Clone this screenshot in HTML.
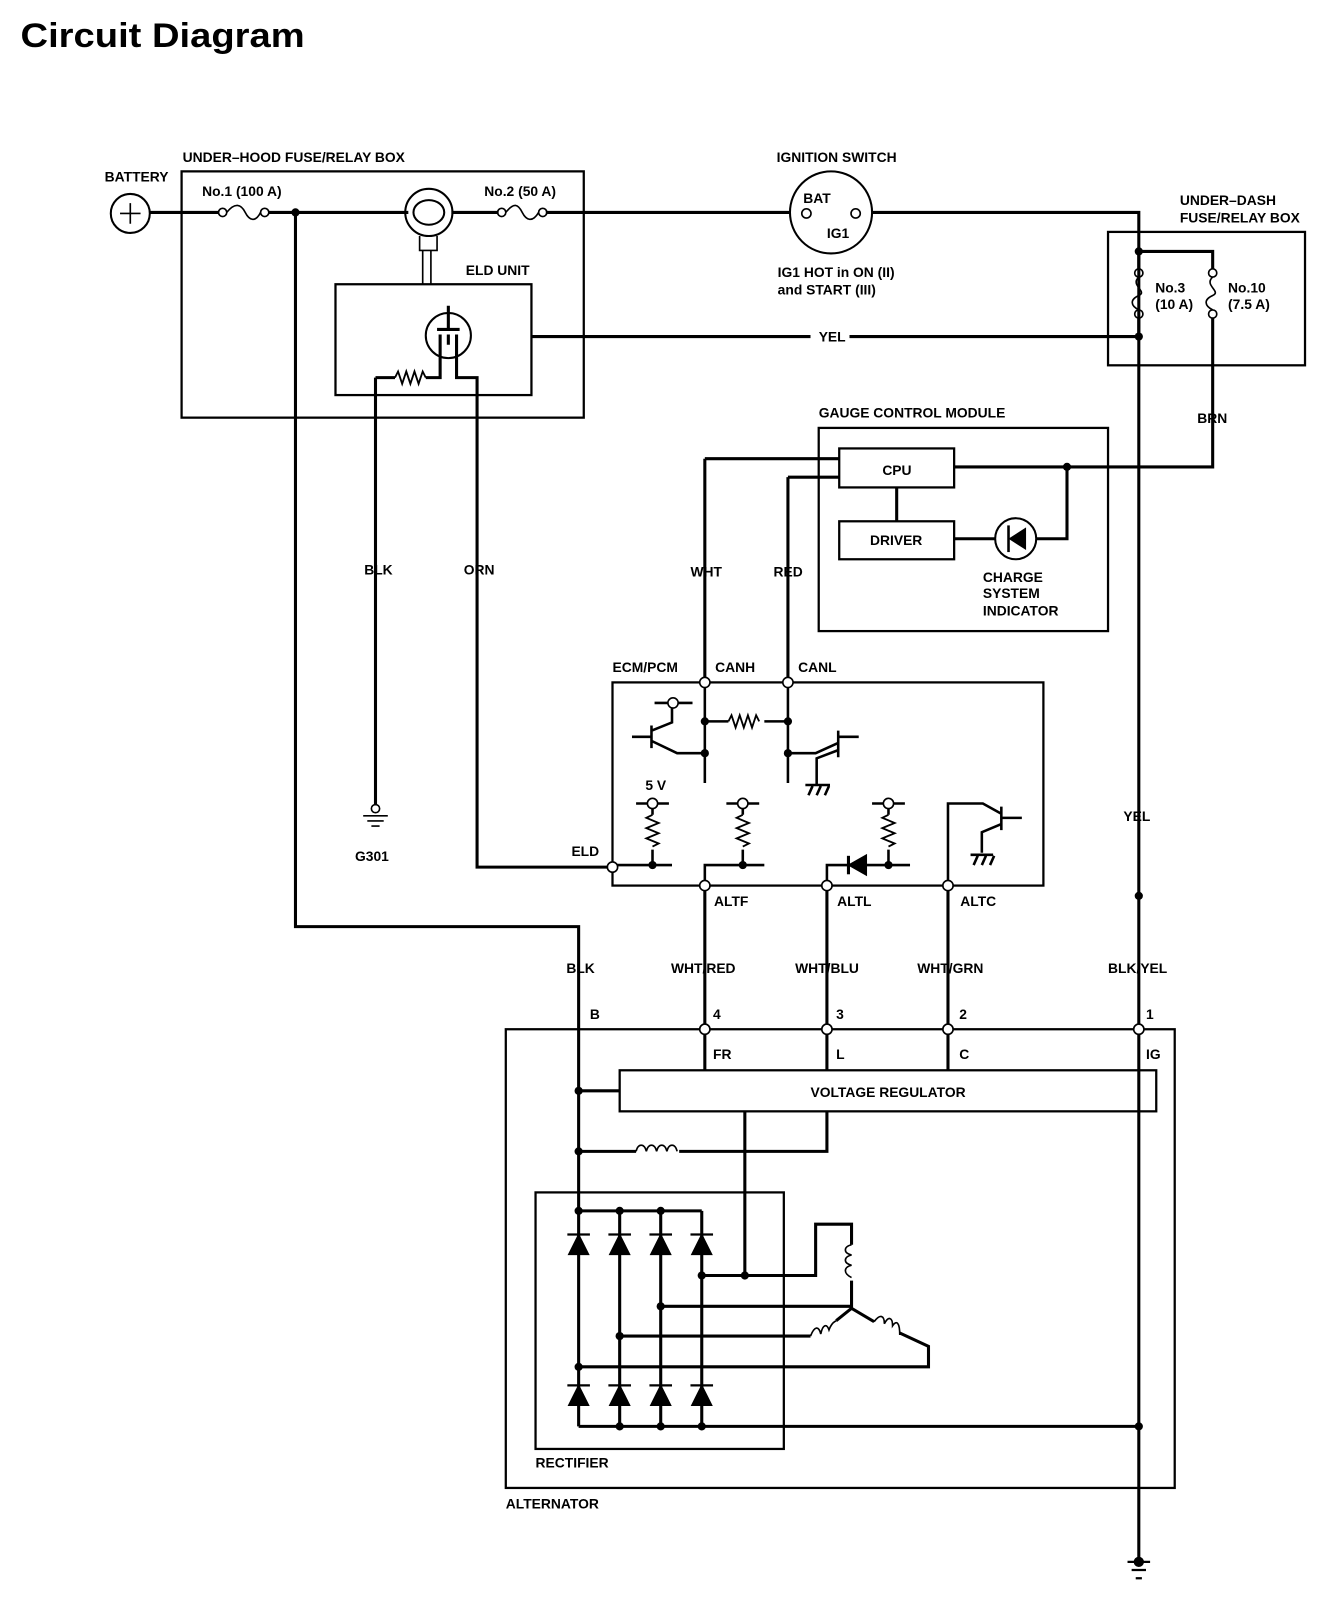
<!DOCTYPE html>
<html><head><meta charset="utf-8"><style>
html,body{margin:0;padding:0;background:#fff;}
svg{display:block}
text{font-family:"Liberation Sans Narrow","Liberation Sans",sans-serif;font-weight:bold;font-size:13.5px;fill:#000}
</style></head><body>
<svg width="1344" height="1608" viewBox="0 0 1310 1567" preserveAspectRatio="none" xmlns="http://www.w3.org/2000/svg">
<rect width="1310" height="1567" fill="#fff"/>
<text x="20" y="46" textLength="277" lengthAdjust="spacingAndGlyphs" style="font-family:'Liberation Sans',sans-serif;font-size:33px;font-weight:bold">Circuit Diagram</text>
<g fill="none" stroke="#000" stroke-width="2.2">
<rect x="177" y="167" width="392" height="240"/>
<rect x="327" y="277" width="191" height="108"/>
<rect x="1080" y="226" width="192" height="130"/>
<rect x="798" y="417" width="282" height="198"/>
<rect x="818" y="437" width="112" height="38"/>
<rect x="818" y="508" width="112" height="37"/>
<rect x="597" y="665" width="420" height="198"/>
<rect x="493" y="1003" width="652" height="447"/>
<rect x="604" y="1043" width="523" height="40"/>
<rect x="522" y="1162" width="242" height="250"/>
</g>
<g fill="none" stroke="#000" stroke-width="3">
<circle cx="127" cy="208" r="19" stroke-width="2"/>
<path d="M117 208h20M127 198v20" stroke-width="1.6"/>
<path d="M146 207H213M262 207H398M440 207H486M532 207H770M850 207H1110V1525"/>
<circle cx="217" cy="207" r="4" stroke-width="1.6"/><circle cx="258" cy="207" r="4" stroke-width="1.6"/>
<path d="M221 207c8 -10 14 -8 18 0s10 10 15 0" stroke-width="1.6"/>
<circle cx="489" cy="207" r="4" stroke-width="1.6"/><circle cx="529" cy="207" r="4" stroke-width="1.6"/>
<path d="M493 207c8 -10 12 -8 16 0s10 10 16 0" stroke-width="1.6"/>
<circle cx="418" cy="207" r="23" stroke-width="2"/>
<ellipse cx="418" cy="207" rx="15" ry="12" stroke-width="2"/>
<path d="M409 230v14h17v-14M412 244v33M420 244v33" stroke-width="1.6"/>
<path d="M288 207V903H564V1390"/>
<circle cx="437" cy="327" r="22" stroke-width="2"/>
<path d="M437 298v22M426 321h22M429 326v22M445 326v22M437 326v10M429 348v20H415M445 348v20h20v17M366 368h19M366 368V785M465 385V845H597" />
<path d="M385 368l3 -6 4 12 4 -12 4 12 4 -12 4 12 4 -12 3 6" stroke-width="1.8"/>
<circle cx="366" cy="788" r="4" stroke-width="1.6"/>
<path d="M354 795h24M358 800h16M362 805h8" stroke-width="1.6"/>
<circle cx="810" cy="207" r="40" stroke-width="2"/>
<circle cx="786" cy="208" r="4.5" fill="#fff" stroke-width="1.6"/>
<circle cx="834" cy="208" r="4.5" fill="#fff" stroke-width="1.6"/>
<path d="M1110 245H1182V262M1182 310V455H930M1110 245V262M1110 310V328M519 328H790M828 328H1110"/>
<circle cx="1110" cy="266" r="4" stroke-width="1.6"/><circle cx="1110" cy="306" r="4" stroke-width="1.6"/>
<path d="M1110 270c-9 8 9 14 0 18s-8 10 0 14" stroke-width="1.6"/>
<circle cx="1182" cy="266" r="4" stroke-width="1.6"/><circle cx="1182" cy="306" r="4" stroke-width="1.6"/>
<path d="M1182 270c-9 8 9 14 0 18s-8 10 0 14" stroke-width="1.6"/>
<path d="M874 475V508M930 525H970M1010 525H1040V455"/>
<circle cx="990" cy="525" r="20" stroke-width="2"/>
<path d="M983 512v26" stroke-width="2.5"/>
<path d="M687 447H818M687 447V660M768 465H818M768 465V660"/>
<path d="M687 670V763M768 670V763M687 703H710M745 703H768M687 734H660L635 722M768 734H795L817 724M635 707v22M616 718h19M635 712l20 -8v-14M656 690v-3M638 685h37" stroke-width="2.5"/>
<path d="M710 703l3 -6 4 12 4 -12 4 12 4 -12 4 12 4 -12 3 6" stroke-width="1.8"/>
<path d="M817 712v26M817 718h20M817 731l-21 8v26M785 765h24M788 775l4 -9M796 775l4 -9M804 775l4 -9" stroke-width="2.5"/>
<circle cx="656" cy="685" r="5" fill="#fff" stroke-width="1.6"/>
<path d="M620 783h32M636 788v6M636 828v15M597 843H655" stroke-width="2.5"/>
<path d="M636 794l-6 3 12 5 -12 5 12 5 -12 5 12 5 -6 3" stroke-width="1.8"/>
<circle cx="636" cy="783" r="5" fill="#fff" stroke-width="1.6"/>
<path d="M708 783h32M724 788v6M724 828v15M687 863V843H745" stroke-width="2.5"/>
<path d="M724 794l-6 3 12 5 -12 5 12 5 -12 5 12 5 -6 3" stroke-width="1.8"/>
<circle cx="724" cy="783" r="5" fill="#fff" stroke-width="1.6"/>
<path d="M850 783h32M866 788v6M866 828v15M806 863V843H887" stroke-width="2.5"/>
<path d="M866 794l-6 3 12 5 -12 5 12 5 -12 5 12 5 -6 3" stroke-width="1.8"/>
<circle cx="866" cy="783" r="5" fill="#fff" stroke-width="1.6"/>
<path d="M827 834v18" stroke-width="3"/>
<path d="M924 863V783H958L976 793M976 786v23M976 797h20M976 803l-19 8v20M946 833h22M949 843l4 -9M957 843l4 -9M965 843l4 -9" stroke-width="2.5"/>
<path d="M687 868V1043M806 868V1043M924 868V1043"/>
<path d="M564 1063H604M564 1122H620M662 1122H806V1083M726 1083V1243"/>
<path d="M620 1122c2 -8 8 -8 10 0c2 -8 8 -8 10 0c2 -8 8 -8 10 0c2 -8 8 -8 10 0" stroke-width="1.6"/>
<path d="M564 1180H684M604 1180V1390M644 1180V1390M684 1180V1390M564 1390H1110M684 1243H795V1193H830V1213M830 1248V1275M644 1273H830M604 1302H790M564 1332H905V1312L877 1299M830 1275L815 1287M830 1275L852 1288"/>
<path d="M830 1213c-8 2 -8 8 0 10c-8 2 -8 8 0 10c-8 2 -8 8 0 12" stroke-width="1.6"/>
<path d="M790 1302c4 -10 8 -10 10 -2c2 -10 6 -10 8 -4c3 -8 6 -8 7 -9" stroke-width="1.6"/>
<path d="M852 1288c6 -8 10 -6 10 2c4 -8 8 -6 8 2c4 -6 7 -3 7 9" stroke-width="1.6"/>
</g>
<g fill="#000" stroke="#000" stroke-width="2.2">
<path d="M553 1203h22M593 1203h22M633 1203h22M673 1203h22M553 1350h22M593 1350h22M633 1350h22M673 1350h22"/>
<path d="M564 1204l-9 18h18zM604 1204l-9 18h18zM644 1204l-9 18h18zM684 1204l-9 18h18zM564 1351l-9 18h18zM604 1351l-9 18h18zM644 1351l-9 18h18zM684 1351l-9 18h18z"/>
<path d="M985 525l14 -9v18z"/>
<path d="M828 843l16 -9v18z"/>
<path d="M1099 1522h22M1103 1530h14M1107 1538h6" fill="none"/>
</g>
<g fill="#000">
<circle cx="288" cy="207" r="4"/><circle cx="1110" cy="245" r="4"/><circle cx="1110" cy="328" r="4"/>
<circle cx="1040" cy="455" r="4"/><circle cx="1110" cy="873" r="4"/>
<circle cx="687" cy="703" r="4"/><circle cx="768" cy="703" r="4"/><circle cx="687" cy="734" r="4"/><circle cx="768" cy="734" r="4"/>
<circle cx="636" cy="843" r="4"/><circle cx="724" cy="843" r="4"/><circle cx="866" cy="843" r="4"/>
<circle cx="564" cy="1063" r="4"/><circle cx="564" cy="1122" r="4"/><circle cx="564" cy="1180" r="4"/><circle cx="604" cy="1180" r="4"/><circle cx="644" cy="1180" r="4"/>
<circle cx="684" cy="1243" r="4"/><circle cx="726" cy="1243" r="4"/><circle cx="644" cy="1273" r="4"/><circle cx="604" cy="1302" r="4"/><circle cx="564" cy="1332" r="4"/>
<circle cx="604" cy="1390" r="4"/><circle cx="644" cy="1390" r="4"/><circle cx="684" cy="1390" r="4"/><circle cx="1110" cy="1390" r="4"/><circle cx="1110" cy="1522" r="5"/>
</g>
<g fill="#fff" stroke="#000" stroke-width="1.6">
<circle cx="687" cy="665" r="5"/><circle cx="768" cy="665" r="5"/><circle cx="597" cy="845" r="5"/>
<circle cx="687" cy="863" r="5"/><circle cx="806" cy="863" r="5"/><circle cx="924" cy="863" r="5"/>
<circle cx="687" cy="1003" r="5"/><circle cx="806" cy="1003" r="5"/><circle cx="924" cy="1003" r="5"/><circle cx="1110" cy="1003" r="5"/>
</g>
<text x="102" y="177">BATTERY</text>
<text x="178" y="158">UNDER–HOOD FUSE/RELAY BOX</text>
<text x="197" y="191">No.1 (100 A)</text>
<text x="472" y="191">No.2 (50 A)</text>
<text x="454" y="268">ELD UNIT</text>
<text x="757" y="158">IGNITION SWITCH</text>
<text x="783" y="198">BAT</text>
<text x="806" y="232">IG1</text>
<text x="758" y="270">IG1 HOT in ON (II)</text>
<text x="758" y="287">and START (III)</text>
<text x="1150" y="200">UNDER–DASH</text>
<text x="1150" y="217">FUSE/RELAY BOX</text>
<text x="1126" y="285">No.3</text>
<text x="1126" y="301">(10 A)</text>
<text x="1197" y="285">No.10</text>
<text x="1197" y="301">(7.5 A)</text>
<text x="798" y="333">YEL</text>
<text x="1167" y="412">BRN</text>
<text x="798" y="407">GAUGE CONTROL MODULE</text>
<text x="860" y="463">CPU</text>
<text x="848" y="531">DRIVER</text>
<text x="958" y="567">CHARGE</text>
<text x="958" y="583">SYSTEM</text>
<text x="958" y="600">INDICATOR</text>
<text x="355" y="560">BLK</text>
<text x="452" y="560">ORN</text>
<text x="673" y="562">WHT</text>
<text x="754" y="562">RED</text>
<text x="346" y="839">G301</text>
<text x="597" y="655">ECM/PCM</text>
<text x="697" y="655">CANH</text>
<text x="778" y="655">CANL</text>
<text x="629" y="770">5 V</text>
<text x="557" y="834">ELD</text>
<text x="696" y="883">ALTF</text>
<text x="816" y="883">ALTL</text>
<text x="936" y="883">ALTC</text>
<text x="1095" y="800">YEL</text>
<text x="552" y="948">BLK</text>
<text x="654" y="948">WHT/RED</text>
<text x="775" y="948">WHT/BLU</text>
<text x="894" y="948">WHT/GRN</text>
<text x="1080" y="948">BLK/YEL</text>
<text x="575" y="993">B</text>
<text x="695" y="993">4</text>
<text x="815" y="993">3</text>
<text x="935" y="993">2</text>
<text x="1117" y="993">1</text>
<text x="695" y="1032">FR</text>
<text x="815" y="1032">L</text>
<text x="935" y="1032">C</text>
<text x="1117" y="1032">IG</text>
<text x="790" y="1069">VOLTAGE REGULATOR</text>
<text x="522" y="1430">RECTIFIER</text>
<text x="493" y="1470">ALTERNATOR</text>
</svg>
</body></html>
